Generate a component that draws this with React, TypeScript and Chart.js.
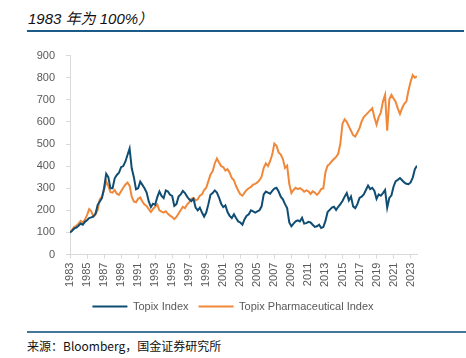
import React, { useEffect, useRef } from "react";
import { Chart, registerables } from "chart.js";

Chart.register(...registerables);

const START_YEAR = 1983;
const END_YEAR = 2023.75;
const tickYears = [1983, 1985, 1987, 1989, 1991, 1993, 1995, 1997, 1999, 2001, 2003, 2005, 2007, 2009, 2011, 2013, 2015, 2017, 2019, 2021, 2023];

// Quarterly values (1983 = 100)
const topixIndex = [
  100, 108, 118, 122,
  130, 140, 135, 148,
  155, 165, 168, 172,
  185, 225, 240, 255,
  300, 365, 350, 300,
  300, 345, 360, 370,
  395, 400, 420, 450,
  480, 390, 350, 295,
  300, 330, 315, 300,
  280, 240, 215, 230,
  225, 260, 285, 265,
  255, 290, 285, 270,
  265, 220, 228, 262,
  272, 288, 278, 262,
  250, 242, 252, 212,
  200, 212, 190, 172,
  190, 228, 270, 278,
  290, 280, 258, 230,
  215, 222, 192, 175,
  165, 182, 165, 150,
  145, 135, 160, 176,
  182, 200, 195, 190,
  195, 200, 218, 272,
  285, 280, 275, 288,
  298, 302, 285, 262,
  250, 228, 210, 145,
  128, 140, 150, 155,
  150, 166, 140, 142,
  148, 145, 135, 125,
  128, 135, 120, 124,
  152, 192, 202, 212,
  216, 202, 216, 228,
  242, 262, 278, 245,
  262, 218, 210, 228,
  256, 262, 272, 292,
  312, 296, 302, 288,
  252, 272, 266, 278,
  292, 212, 256, 268,
  308, 332, 338, 346,
  336, 326, 320, 318,
  326, 348, 386, 402,
];

const pharmaIndex = [
  100, 112, 125, 130,
  140, 152, 145, 158,
  178, 205, 195, 172,
  182, 202, 250, 262,
  292, 332, 310, 282,
  280, 292, 275, 270,
  286, 302, 316, 326,
  312, 262, 240, 236,
  252, 258, 240, 226,
  220, 205, 192, 206,
  216, 226, 200, 194,
  190, 196, 184, 176,
  170, 160, 170, 186,
  200, 216, 210, 226,
  236, 252, 256, 245,
  250, 266, 272, 292,
  302, 332, 362, 376,
  412, 434, 416, 400,
  396, 380, 386, 370,
  346, 336, 310, 290,
  272, 266, 280, 292,
  300, 306, 316, 320,
  326, 336, 352, 392,
  412, 400, 422, 452,
  502, 492, 462, 452,
  432, 392, 402, 320,
  278, 292, 302, 296,
  300, 294, 284, 290,
  286, 274, 286, 280,
  270, 280, 296, 300,
  372, 402, 410, 422,
  432, 442, 456, 502,
  592, 612, 600, 580,
  560, 540, 534, 552,
  572, 602, 622, 632,
  642, 652, 662, 620,
  588, 622, 642, 692,
  722, 560, 702, 722,
  706, 690, 660, 636,
  662, 682, 692, 742,
  782, 812, 800, 806,
];

const seriesNames = ["Topix Index", "Topix Pharmaceutical Index"];
const seriesColors = ["#0F4D73", "#F0883A"];

const toPoints = (arr: number[]) => arr.map((v, i) => ({ x: START_YEAR + i / 4, y: v }));

export default function App() {
  const canvasRef = useRef<HTMLCanvasElement | null>(null);

  useEffect(() => {
    document.body.style.margin = "0";
    const ctx = canvasRef.current;
    if (!ctx) return;
    const tickColor = "#595959";
    const font = { family: "Liberation Sans, Arial, sans-serif", size: 11 };
    const chart = new Chart(ctx, {
      type: "line",
      data: {
        datasets: [
          {
            label: seriesNames[0],
            data: toPoints(topixIndex),
            borderColor: seriesColors[0],
            backgroundColor: seriesColors[0],
            borderWidth: 2,
            pointRadius: 0,
            tension: 0,
          },
          {
            label: seriesNames[1],
            data: toPoints(pharmaIndex),
            borderColor: seriesColors[1],
            backgroundColor: seriesColors[1],
            borderWidth: 2,
            pointRadius: 0,
            tension: 0,
          },
        ],
      },
      options: {
        animation: false,
        responsive: false,
        maintainAspectRatio: false,
        layout: { padding: { left: 10, right: 10, top: 8, bottom: 0 } },
        plugins: {
          tooltip: { enabled: false },
          legend: {
            position: "bottom",
            labels: {
              usePointStyle: true,
              pointStyle: "line",
              pointStyleWidth: 35,
              boxHeight: 6,
              color: tickColor,
              font,
              padding: 10,
            },
          },
        },
        scales: {
          x: {
            type: "linear",
            min: START_YEAR,
            max: END_YEAR,
            afterBuildTicks: (axis: any) => {
              axis.ticks = tickYears.map((v) => ({ value: v }));
            },
            grid: { drawOnChartArea: false, drawTicks: true, tickLength: 4, color: "#d9d9d9" },
            border: { color: "#d9d9d9", width: 1 },
            ticks: {
              autoSkip: false,
              maxRotation: 90,
              minRotation: 90,
              padding: 4,
              color: tickColor,
              font,
              callback: (v: any) => String(v),
            },
          },
          y: {
            min: 0,
            max: 900,
            afterFit: (axis: any) => {
              axis.width = 60;
            },
            grid: { drawOnChartArea: false, drawTicks: true, tickLength: 4, color: "#d9d9d9" },
            border: { color: "#d9d9d9", width: 1 },
            ticks: {
              stepSize: 100,
              padding: 11,
              color: tickColor,
              font,
            },
          },
          yRight: {
            position: "right",
            min: 0,
            max: 900,
            afterFit: (axis: any) => {
              axis.width = 39;
            },
            grid: { display: false },
            border: { display: false },
            ticks: { display: false },
          },
        },
      },
    } as any);
    return () => chart.destroy();
  }, []);

  return (
    <div style={{ position: "relative", width: 466, height: 358, background: "#fff", overflow: "hidden" }}>
      <div
        style={{
          position: "absolute",
          left: 28,
          top: 7,
          fontFamily: "'Liberation Sans', 'Noto Sans CJK SC', sans-serif",
          fontStyle: "italic",
          fontSize: 15,
          color: "#111",
          whiteSpace: "nowrap",
        }}
      >
        1983 年为 100%）
      </div>
      <div style={{ position: "absolute", left: 27, top: 30, width: 437, height: 2, background: "#1C5A87" }} />
      <canvas ref={canvasRef} width={466} height={284} style={{ position: "absolute", left: 0, top: 38, width: 466, height: 284 }} />
      <div style={{ position: "absolute", left: 27, top: 331, width: 439, height: 2, background: "#46759A" }} />
      <div
        style={{
          position: "absolute",
          left: 27,
          top: 337,
          fontFamily: "'Noto Sans CJK SC', sans-serif",
          fontSize: 12,
          color: "#111",
          whiteSpace: "nowrap",
        }}
      >
        来源：Bloomberg，国金证券研究所
      </div>
    </div>
  );
}
